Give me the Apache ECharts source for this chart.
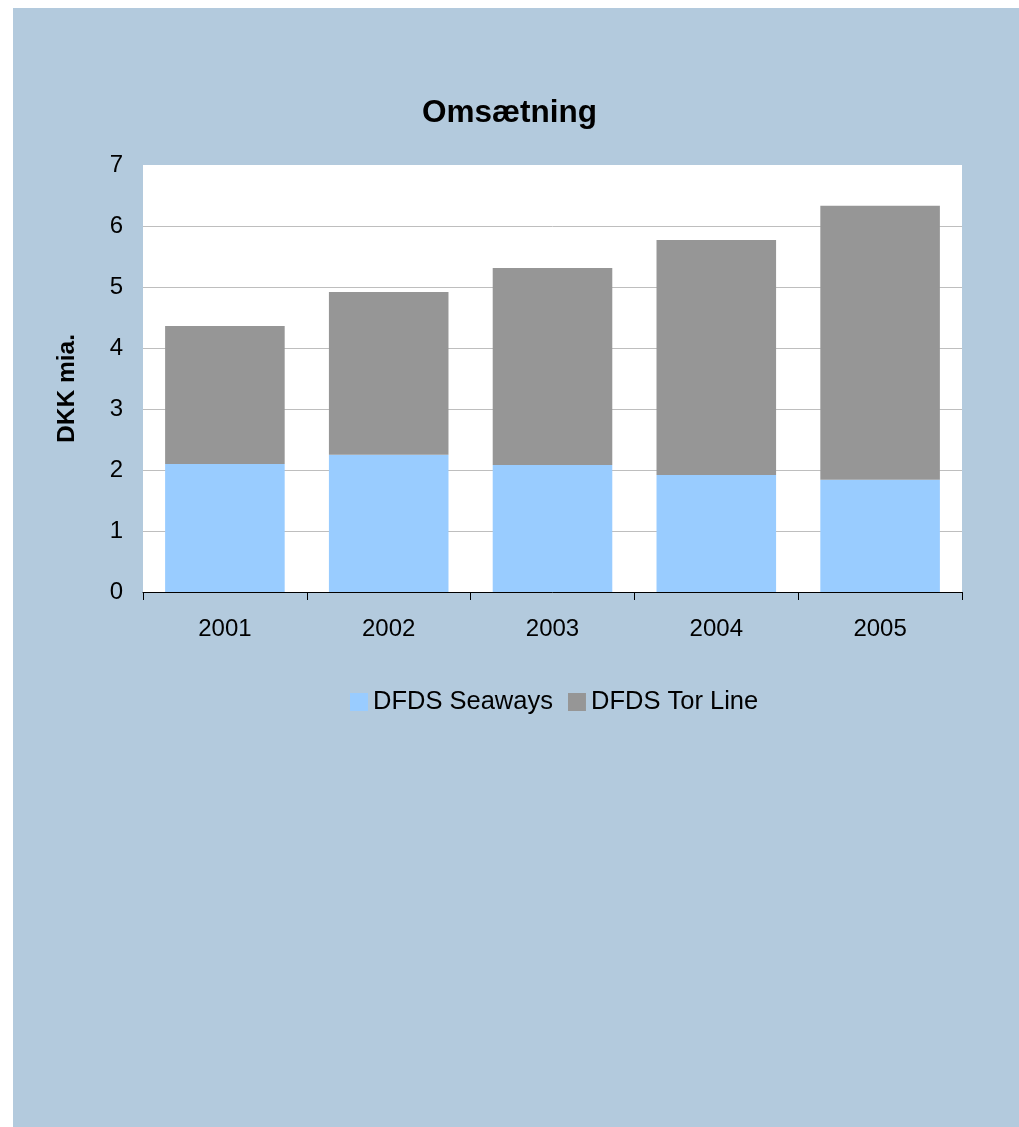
<!DOCTYPE html>
<html>
<head>
<meta charset="utf-8">
<script src="https://cdn.jsdelivr.net/npm/echarts@6/dist/echarts.min.js"></script>
<style>
html,body{margin:0;padding:0;background:#fff;width:1019px;height:1127px;overflow:hidden}
#c{position:absolute;left:13px;top:8px;width:1006px;height:1119px;background:#B3CADD}
</style>
</head>
<body>
<div id="c"></div>
<script>
const years = ['2001','2002','2003','2004','2005'];
const seaways = [2.10, 2.25, 2.08, 1.92, 1.84];
const torLine = [2.26, 2.67, 3.23, 3.85, 4.49];
const seriesNames = ['DFDS Seaways','DFDS Tor Line'];
const titleText = 'Omsætning';
const yName = 'DKK mia.';

const chart = echarts.init(document.getElementById('c'), null, {renderer:'canvas'});
const font = 'Liberation Sans, Arial, sans-serif';
chart.setOption({
  animation:false,
  backgroundColor:'#B3CADD',
  title:{
    text:titleText, left:404, top:84,
    textStyle:{fontFamily:font, fontSize:31.5, fontWeight:'bold', color:'#000'}
  },
  legend:{
    left:337, top:681, padding:0, itemWidth:18, itemHeight:18, itemGap:15,
    icon:'rect',
    textStyle:{fontFamily:font, fontSize:25.5, color:'#000', padding:[0,0,4,0]},
    data:seriesNames
  },
  grid:{left:130, top:157, width:819, height:427, show:true, backgroundColor:'#fff', borderWidth:0},
  xAxis:{
    type:'category', data:years,
    axisLine:{lineStyle:{color:'#000', width:1}},
    axisTick:{show:true, length:8, lineStyle:{color:'#000'}},
    axisLabel:{fontFamily:font, fontSize:24, color:'#000', margin:25}
  },
  yAxis:{
    type:'value', min:0, max:7, interval:1,
    name:yName, nameLocation:'middle', nameGap:63, nameRotate:90,
    nameTextStyle:{fontFamily:font, fontSize:24.5, fontWeight:'bold', color:'#000', padding:[0,20,0,0]},
    axisLine:{show:false}, axisTick:{show:false},
    axisLabel:{fontFamily:font, fontSize:24, color:'#000', margin:20},
    splitLine:{showMaxLine:false, lineStyle:{color:'#BEBEBE', width:1}}
  },
  series:[
    {name:seriesNames[0], type:'bar', stack:'a', data:seaways, barCategoryGap:'27%', itemStyle:{color:'#99CCFF'}},
    {name:seriesNames[1], type:'bar', stack:'a', data:torLine, itemStyle:{color:'#969696'}}
  ]
});
</script>
</body>
</html>
